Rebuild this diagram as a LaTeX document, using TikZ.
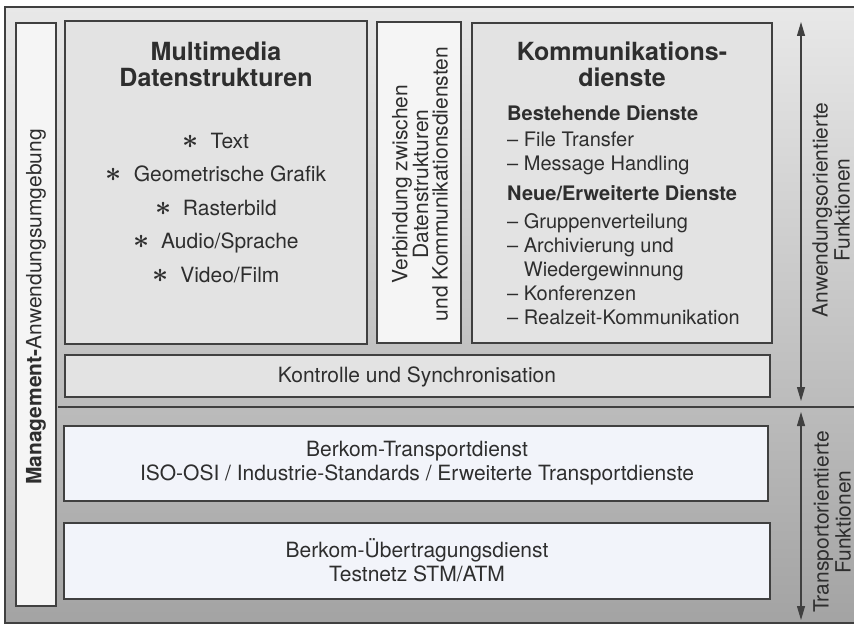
\documentclass[tikz,border=0pt]{standalone}
\usepackage{fontspec}
\setmainfont{TeX Gyre Heros}
\usetikzlibrary{arrows.meta}
\usetikzlibrary{backgrounds}

\definecolor{linegray}{gray}{0.25}
\definecolor{textgray}{gray}{0.18}
\definecolor{boxgray}{gray}{0.89}
\definecolor{boxwhite}{gray}{0.96}
\definecolor{boxblue}{RGB}{242,244,250}

\newcommand{\itemstar}{\scalebox{1.35}{\boldmath$\ast$}~~}

\tikzset{
  box/.style={draw=linegray, line width=1.1pt, inner sep=0pt, outer sep=0pt},
  graybox/.style={box, fill=boxgray},
  whitebox/.style={box, fill=boxwhite},
  bluebox/.style={box, fill=boxblue},
  txt/.style={text=textgray, inner sep=0pt, font=\fontsize{21}{24}\selectfont},
  headline/.style={txt, font=\fontsize{25}{27}\selectfont\bfseries},
  updown/.style={{Triangle[length=14pt,width=8pt]}-{Triangle[length=14pt,width=8pt]}, line width=1.1pt, draw=linegray}
}

\begin{document}
\begin{tikzpicture}[x=1pt, y=-1pt]
        \useasboundingbox (0,0) rectangle (854,626);
        \fill[top color=black!9, bottom color=black!36] (5,7) rectangle (860,623);
        \draw[linegray, line width=1.3pt] (860,7) -- (5,7) -- (5,623) -- (860,623);

        \node[whitebox, minimum width=40pt, minimum height=583pt] (mgmt) at (36,314.5) {};
        \node[graybox, minimum width=302pt, minimum height=323pt] (media) at (216,182.5) {};
        \node[whitebox, minimum width=84pt, minimum height=321pt] (link) at (419,182.5) {};
        \node[graybox, minimum width=300pt, minimum height=320pt] (komm) at (622,183) {};
        \node[graybox, minimum width=705pt, minimum height=42pt] (sync) at (417.5,376) {};
        \node[bluebox, minimum width=704pt, minimum height=75pt] (trans) at (416,463.5) {};
        \node[bluebox, minimum width=706pt, minimum height=76pt] (phys) at (417,561) {};

        \coordinate (sepL) at (58,407);
        \coordinate (sepR) at (856,407);
        \draw[linegray, line width=1.1pt] (sepL) -- (sepR);

        \node[txt, rotate=90] (mgmtlbl) at (36,307) {\textbf{Management-}Anwendungsumgebung};

        \node[headline, align=center, anchor=base] (medialbl) at (216,87) {Multimedia\\Datenstrukturen};
        \node[txt, align=center, anchor=base, font=\fontsize{21}{33.5}\selectfont] (medialist) at (216,282)
            {\itemstar Text\\\itemstar Geometrische Grafik\\\itemstar Rasterbild\\\itemstar Audio/Sprache\\\itemstar Video/Film};

        \node[txt, rotate=90, align=center, font=\fontsize{21}{19.5}\selectfont] (linklbl) at (420,184)
            {Verbindung zwischen\\Datenstrukturen\\und Kommunikationsdiensten};

        \node[headline, align=center, anchor=base] (kommlbl) at (622,87) {Kommunikations-\\dienste};
        \node[txt, align=left, anchor=base west, font=\fontsize{20}{24}\selectfont] (kommlist) at (507,324)
            {\textbf{Bestehende Dienste}\\[2pt]
             -- File Transfer\\
             -- Message Handling\\[6pt]
             \textbf{Neue/Erweiterte Dienste}\\[4pt]
             -- Gruppenverteilung\\
             -- Archivierung und\\
             \hphantom{-- }Wiedergewinnung\\
             -- Konferenzen\\
             -- Realzeit-Kommunikation};

        \node[txt, anchor=base] (synclbl) at (417,382) {Kontrolle und Synchronisation};
        \node[txt, align=center, anchor=base] (translbl) at (417,480)
            {Berkom-Transportdienst\\ISO-OSI / Industrie-Standards / Erweiterte Transportdienste};
        \node[txt, align=center, anchor=base] (physlbl) at (417,581)
            {Berkom-Übertragungsdienst\\Testnetz STM/ATM};

        \coordinate (appTop) at (801,22);
        \coordinate (appBot) at (801,401);
        \coordinate (trpTop) at (801,412);
        \coordinate (trpBot) at (801,620);
        \draw[updown] (appTop) -- (appBot);
        \draw[updown] (trpTop) -- (trpBot);

        \node[txt, rotate=90, align=center, font=\fontsize{21}{22}\selectfont] (applbl) at (831,210)
            {Anwendungsorientierte\\Funktionen};
        \node[txt, rotate=90, align=center, font=\fontsize{21}{22}\selectfont] (trplbl) at (832,522)
            {Transportorientierte\\Funktionen};
    \end{tikzpicture}
\end{document}
